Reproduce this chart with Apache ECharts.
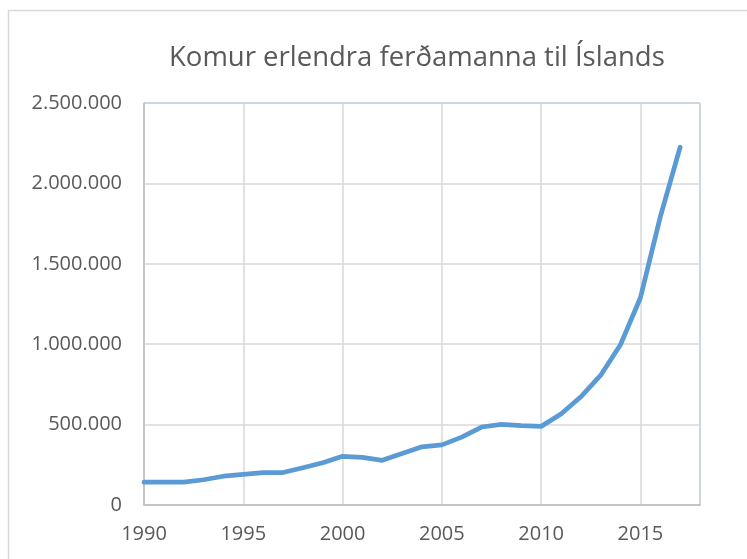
<!DOCTYPE html>
<html lang="is">

<head>
    <meta charset="utf-8">
    <title>Komur erlendra ferðamanna til Íslands</title>
    <script src="https://cdn.jsdelivr.net/npm/echarts@6/dist/echarts.min.js"></script>
    <style>
        html, body {
            margin: 0;
            padding: 0;
            background: #fff;
        }
    </style>
</head>

<body>
    <div id="main" style="width: 747px; height: 559px;"></div>
</body>

<script>
    // ár og fjöldi erlendra ferðamanna
    var years = [1990, 1991, 1992, 1993, 1994, 1995, 1996, 1997, 1998, 1999,
        2000, 2001, 2002, 2003, 2004, 2005, 2006, 2007, 2008, 2009,
        2010, 2011, 2012, 2013, 2014, 2015, 2016, 2017];
    var visitors = [142000, 143000, 142000, 157000, 179000, 190000, 201000, 202000, 232000, 263000,
        303000, 296000, 278000, 320000, 362000, 374000, 422000, 485000, 502000, 494000,
        489000, 566000, 673000, 807000, 998000, 1289000, 1792000, 2225000];
    var yTicks = [0, 500000, 1000000, 1500000, 2000000, 2500000];

    var points = [];
    for (var i = 0; i < years.length; i++) {
        points.push([years[i], visitors[i]]);
    }

    function dots(v) {
        return String(v).replace(/\B(?=(\d{3})+(?!\d))/g, '.');
    }

    var myChart = echarts.init(document.getElementById('main'));
    var option = {
        backgroundColor: '#fff',
        animation: false,
        title: {
            text: 'Komur erlendra ferðamanna til Íslands',
            left: 164,
            top: 39,
            textStyle: {
                fontFamily: 'Open Sans',
                fontWeight: 'normal',
                fontSize: 27.5,
                color: '#595959'
            }
        },
        graphic: [{
            type: 'rect',
            shape: { x: 8.5, y: 10.5, width: 760, height: 580 },
            style: { fill: 'none', stroke: '#d9d9d9', lineWidth: 1.5 },
            silent: true
        }],
        grid: {
            left: 144,
            right: 47,
            top: 103,
            bottom: 54,
            show: true,
            borderColor: '#5b9bd5',
            borderWidth: 1
        },
        xAxis: {
            type: 'value',
            min: 1990,
            max: 2018,
            interval: 5,
            axisLine: { show: true, onZero: false, lineStyle: { color: '#bfbfbf', width: 1.5 } },
            axisTick: { show: false },
            splitLine: { show: true, lineStyle: { color: '#d9d9d9', width: 1.5 } },
            axisLabel: {
                showMaxLabel: false,
                margin: 19,
                fontFamily: 'Open Sans',
                fontSize: 20,
                color: '#595959',
                formatter: function (v) { return String(v); }
            }
        },
        yAxis: {
            type: 'value',
            min: yTicks[0],
            max: yTicks[yTicks.length - 1],
            interval: 500000,
            axisLine: { show: true, lineStyle: { color: '#bfbfbf', width: 1.5 } },
            axisTick: { show: false },
            splitLine: { show: true, lineStyle: { color: '#d9d9d9', width: 1.5 } },
            axisLabel: {
                margin: 22,
                fontFamily: 'Open Sans',
                fontSize: 20,
                color: '#595959',
                formatter: function (v) { return dots(v); }
            }
        },
        series: [{
            type: 'line',
            data: points,
            showSymbol: false,
            lineStyle: { color: '#5b9bd5', width: 4.75, cap: 'round', join: 'round' },
            z: 5
        }]
    };
    myChart.setOption(option);
</script>

</html>
